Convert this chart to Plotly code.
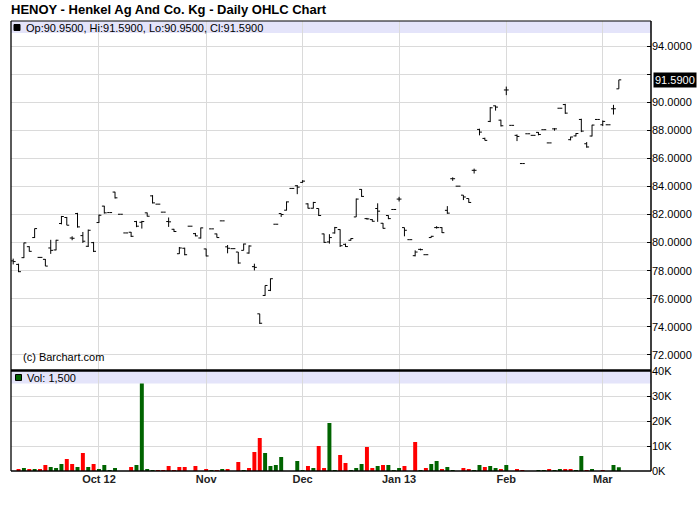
import plotly.graph_objects as go

# ---------------- data ----------------
opens = [78.70, 78.45, 78.93, 79.71, 80.36, 78.95, 78.81, 79.62, 79.48, 81.36,
         81.79, 80.33, 82.07, 80.50, 79.74, 80.00, 81.43, 82.60, 82.14, 83.60,
         82.02, 80.69, 80.74, 81.50, 81.45, 82.12, 83.33, 82.74, 82.17, 81.50,
         80.95, 79.21, 79.60, 81.17, 80.64, 80.33, 79.55, 80.98, 80.62, 81.55,
         79.70, 79.57, 79.33, 79.45, 79.26, 78.29, 74.93, 76.24, 76.60, 81.31,
         82.07, 82.31, 83.86, 84.05, 84.29, 82.76, 82.45, 82.43, 80.62, 80.05,
         80.69, 80.93, 79.88, 80.17, 81.83, 83.79, 81.71, 81.64, 82.43, 81.38,
         81.93, 82.36, 83.10, 81.07, 80.21, 79.07, 79.52, 79.14, 80.36, 81.07,
         81.07, 82.30, 84.55, 84.02, 83.38, 83.14, 85.15, 88.06, 87.42, 88.63,
         89.74, 88.72, 90.87, 88.35, 87.64, 85.63, 87.75, 87.64, 87.85, 88.04,
         87.10, 88.10, 89.57, 89.83, 87.33, 87.60, 88.77, 87.04, 87.59, 88.77,
         88.39, 88.39, 89.53, 90.95]
highs = [78.86, 78.50, 80.00, 79.74, 81.00, 78.95, 78.83, 80.20, 80.20, 81.90,
         81.83, 80.45, 82.12, 80.76, 80.93, 80.05, 82.00, 82.62, 82.14, 83.62,
         82.02, 80.69, 80.76, 81.55, 81.55, 82.14, 83.38, 82.74, 82.17, 81.79,
         80.98, 79.69, 79.64, 81.17, 80.69, 81.07, 79.57, 80.98, 80.64, 81.55,
         79.83, 79.57, 79.33, 79.93, 79.81, 78.50, 74.93, 76.95, 77.45, 81.31,
         82.07, 82.93, 83.86, 84.10, 84.45, 82.80, 82.90, 82.43, 80.64, 80.60,
         81.12, 80.95, 79.93, 80.31, 83.14, 83.81, 81.76, 81.67, 82.80, 81.40,
         81.95, 82.36, 83.26, 81.07, 80.21, 79.45, 79.57, 79.14, 80.48, 81.17,
         81.10, 82.60, 84.65, 84.02, 83.38, 83.14, 85.27, 88.11, 87.47, 89.65,
         89.76, 88.75, 91.11, 88.35, 87.70, 85.63, 87.75, 87.64, 87.87, 88.04,
         87.10, 88.15, 89.57, 89.88, 87.54, 87.80, 88.82, 87.16, 88.39, 88.77,
         88.70, 88.39, 89.81, 91.59]
lows = [78.45, 77.90, 78.90, 79.36, 80.33, 78.95, 78.33, 79.20, 79.45, 81.30,
        81.24, 80.17, 81.07, 79.98, 79.69, 79.33, 81.40, 82.07, 82.14, 83.14,
        82.02, 80.69, 80.40, 81.10, 81.00, 81.86, 82.79, 82.74, 82.17, 81.12,
        80.76, 79.20, 79.10, 81.17, 80.45, 80.29, 79.02, 80.98, 80.36, 81.55,
        79.24, 79.57, 78.50, 79.45, 79.21, 78.02, 74.21, 76.21, 76.55, 81.31,
        81.83, 82.29, 83.86, 83.45, 84.26, 82.43, 82.43, 81.90, 79.98, 79.93,
        80.64, 79.69, 79.69, 80.14, 81.83, 83.26, 81.64, 81.50, 81.48, 81.00,
        81.67, 82.36, 82.93, 80.45, 80.21, 79.02, 79.45, 79.14, 80.36, 81.00,
        80.69, 82.05, 84.40, 84.02, 83.03, 82.84, 84.92, 87.64, 87.28, 88.58,
        89.40, 88.27, 90.50, 88.35, 87.23, 85.63, 87.75, 87.64, 87.64, 88.04,
        87.10, 87.97, 89.57, 89.17, 87.28, 87.56, 87.87, 86.76, 87.56, 88.77,
        88.30, 88.39, 89.12, 90.95]
closes = [78.65, 77.93, 79.98, 79.38, 81.00, 78.95, 78.33, 79.45, 80.17, 81.86,
          81.24, 80.31, 81.12, 80.10, 80.88, 79.38, 81.95, 82.12, 82.14, 83.19,
          82.02, 80.69, 80.45, 81.17, 81.50, 81.88, 82.83, 82.74, 82.17, 81.48,
          80.79, 79.62, 79.14, 81.17, 80.48, 81.05, 79.05, 80.98, 80.36, 81.55,
          79.60, 79.57, 78.55, 79.90, 79.76, 78.24, 74.26, 76.95, 77.43, 81.31,
          82.00, 82.90, 83.86, 83.95, 84.38, 82.45, 82.86, 81.93, 80.02, 80.36,
          81.07, 79.78, 79.72, 80.29, 83.10, 83.29, 81.69, 81.52, 82.24, 81.02,
          81.71, 82.36, 83.10, 80.88, 80.21, 79.33, 79.50, 79.14, 80.45, 81.07,
          80.71, 82.10, 84.55, 84.02, 83.25, 82.86, 85.15, 87.87, 87.28, 89.60,
          89.65, 88.32, 90.87, 88.35, 87.56, 85.63, 87.75, 87.64, 87.70, 88.04,
          87.10, 88.10, 89.57, 89.22, 87.52, 87.77, 87.94, 86.81, 88.37, 88.77,
          88.63, 88.39, 89.53, 91.59]
volumes = [0, 800, 1200, 800, 800, 800, 2400, 1600, 1200, 2800,
           4800, 2800, 1600, 7200, 1600, 2800, 800, 2400, 400, 1200,
           0, 0, 1600, 2400, 35000, 800, 400, 400, 400, 2000,
           400, 1600, 1600, 0, 2000, 0, 800, 400, 400, 800,
           800, 0, 3600, 400, 1200, 7600, 13200, 7200, 2000, 2400,
           5600, 0, 0, 4000, 400, 2000, 1200, 10000, 1200, 19200,
           400, 6400, 3200, 400, 1200, 2800, 9600, 1200, 2000, 2400,
           2400, 400, 1200, 2000, 0, 11600, 400, 1200, 2800, 4000,
           800, 1600, 400, 0, 1200, 800, 400, 2400, 1600, 2000,
           1200, 800, 2400, 0, 800, 400, 0, 0, 400, 400,
           800, 400, 800, 800, 800, 400, 6000, 400, 800, 0,
           400, 0, 2400, 1500]
session = list(range(len(closes)))          # trading-session index
month_start_sessions = [16, 36, 54, 72, 92, 110]
month_labels = ["Oct 12", "Nov", "Dec", "Jan 13", "Feb", "Mar"]
price_ticks = [72, 74, 76, 78, 80, 82, 84, 86, 88, 90, 92, 94]
volume_ticks = [0, 10000, 20000, 30000, 40000]
volume_tick_labels = ["0K", "10K", "20K", "30K", "40K"]

# ---------------- derived ----------------
UP, DOWN = "#006400", "#FF0000"
vol_colors = [UP] + [UP if closes[i] >= closes[i - 1] else DOWN for i in range(1, len(closes))]
last = len(closes) - 1
price_tick_text = ["" if abs(v - 92) < 1e-9 else f"{v:.4f}" for v in price_ticks]

# ---------------- layout geometry (pixels) ----------------
W, H = 700, 512
L, R, T, B = 11, 49, 21, 41
PW, PH = W - L - R, H - T - B


def px(x):
    return (x - L) / PW


def py(y):
    return (H - B - y) / PH


FONT = "Liberation Sans, Arial, sans-serif"
GRID = "#DADADA"
BAND = "#E4E4FA"

fig = go.Figure()
fig.add_trace(go.Bar(x=session, y=volumes, marker=dict(color=vol_colors, line=dict(width=0)),
                     width=0.74, xaxis="x", yaxis="y", hoverinfo="skip"))
fig.add_trace(go.Ohlc(x=session, open=opens, high=highs, low=lows, close=closes,
                      xaxis="x", yaxis="y2", tickwidth=0.45,
                      increasing=dict(line=dict(color="black", width=1)),
                      decreasing=dict(line=dict(color="black", width=1)),
                      hoverinfo="skip"))

price_dom = [py(370), 1]
vol_dom = [0, py(371)]
price_range = [94 - (370 - 46) / 14.045, 94 + (46 - T) / 14.045]

fig.update_layout(
    width=W, height=H, margin=dict(l=L, r=R, t=T, b=B, autoexpand=False),
    paper_bgcolor="white", plot_bgcolor="rgba(0,0,0,0)",
    showlegend=False, font=dict(family=FONT, size=11, color="black"),
    xaxis=dict(range=[-0.41, 119.0], anchor="y", tickmode="array",
               tickvals=month_start_sessions, ticktext=[f"<b>{t}</b>" for t in month_labels],
               tickfont=dict(family=FONT, size=11, color="#222"),
               showgrid=True, gridcolor=GRID, gridwidth=1, zeroline=False,
               showline=False, ticks="", rangeslider=dict(visible=False), automargin=False),
    yaxis=dict(domain=vol_dom, range=[0, 40000], side="right", anchor="x",
               tickmode="array", tickvals=volume_ticks, ticktext=volume_tick_labels,
               showgrid=True, gridcolor=GRID, zeroline=False, showline=False,
               ticks="inside", ticklen=4, tickcolor="black", automargin=False,
               tickfont=dict(family=FONT, size=11, color="black")),
    yaxis2=dict(domain=price_dom, range=price_range, side="right", anchor="x",
                tickmode="array", tickvals=price_ticks, ticktext=price_tick_text,
                showgrid=True, gridcolor=GRID, zeroline=False, showline=False,
                ticks="inside", ticklen=4, tickcolor="black", automargin=False,
                tickfont=dict(family=FONT, size=11, color="black")),
)

shapes = [
    # lavender header bands
    dict(type="rect", xref="paper", yref="paper", x0=0, x1=1, y0=py(33), y1=1,
         fillcolor=BAND, line=dict(width=0), layer="below"),
    dict(type="rect", xref="paper", yref="paper", x0=0, x1=1, y0=py(383.5), y1=py(371),
         fillcolor=BAND, line=dict(width=0), layer="below"),
    # frame lines
    dict(type="line", xref="paper", yref="paper", x0=0, x1=1, y0=1, y1=1,
         line=dict(color="black", width=1)),
    dict(type="line", xref="paper", yref="paper", x0=0, x1=0, y0=0, y1=1,
         line=dict(color="black", width=1.3)),
    dict(type="line", xref="paper", yref="paper", x0=1, x1=1, y0=0, y1=1,
         line=dict(color="black", width=1.5)),
    dict(type="line", xref="paper", yref="paper", x0=0, x1=1, y0=0, y1=0,
         line=dict(color="black", width=1.5)),
    dict(type="line", xref="paper", yref="paper", x0=0, x1=1, y0=py(370.5), y1=py(370.5),
         line=dict(color="black", width=2.5)),
    # legend squares
    dict(type="rect", xref="paper", yref="paper", x0=px(14), x1=px(20), y0=py(30.5), y1=py(24.5),
         fillcolor="black", line=dict(color="black", width=1)),
    dict(type="rect", xref="paper", yref="paper", x0=px(15.5), x1=px(21.5), y0=py(380.5), y1=py(374.5),
         fillcolor=UP, line=dict(color="black", width=1)),
]
fig.update_layout(shapes=shapes)

annotations = [
    dict(text="<b>HENOY - Henkel Ag And Co. Kg - Daily OHLC Chart</b>", xref="paper", yref="paper",
         x=px(9), y=py(9), xanchor="left", yanchor="middle", showarrow=False,
         font=dict(family=FONT, size=13, color="black")),
    dict(text=f"Op:{opens[last]:.4f}, Hi:{highs[last]:.4f}, Lo:{lows[last]:.4f}, Cl:{closes[last]:.4f}",
         xref="paper", yref="paper", x=px(24), y=py(27.5), xanchor="left", yanchor="middle",
         showarrow=False, font=dict(family=FONT, size=11, color="black")),
    dict(text=f"Vol: {volumes[last]:,}", xref="paper", yref="paper", x=px(25), y=py(378),
         xanchor="left", yanchor="middle", showarrow=False,
         font=dict(family=FONT, size=11, color="black")),
    dict(text="(c) Barchart.com", xref="paper", yref="paper", x=px(21), y=py(357),
         xanchor="left", yanchor="middle", showarrow=False,
         font=dict(family=FONT, size=11, color="black")),
    dict(text=f"{closes[last]:.4f}", xref="paper", yref="y2", x=px(653), y=closes[last],
         xanchor="left", yanchor="middle", showarrow=False, bgcolor="black", borderpad=1,
         font=dict(family=FONT, size=11, color="white")),
]
fig.update_layout(annotations=annotations)

# remove the default 8px page margin so the 700x512 figure fills the window exactly
fig.write_html("out.html", config={"displayModeBar": False},
               post_script="document.body.style.margin='0';document.body.style.overflow='hidden';")
